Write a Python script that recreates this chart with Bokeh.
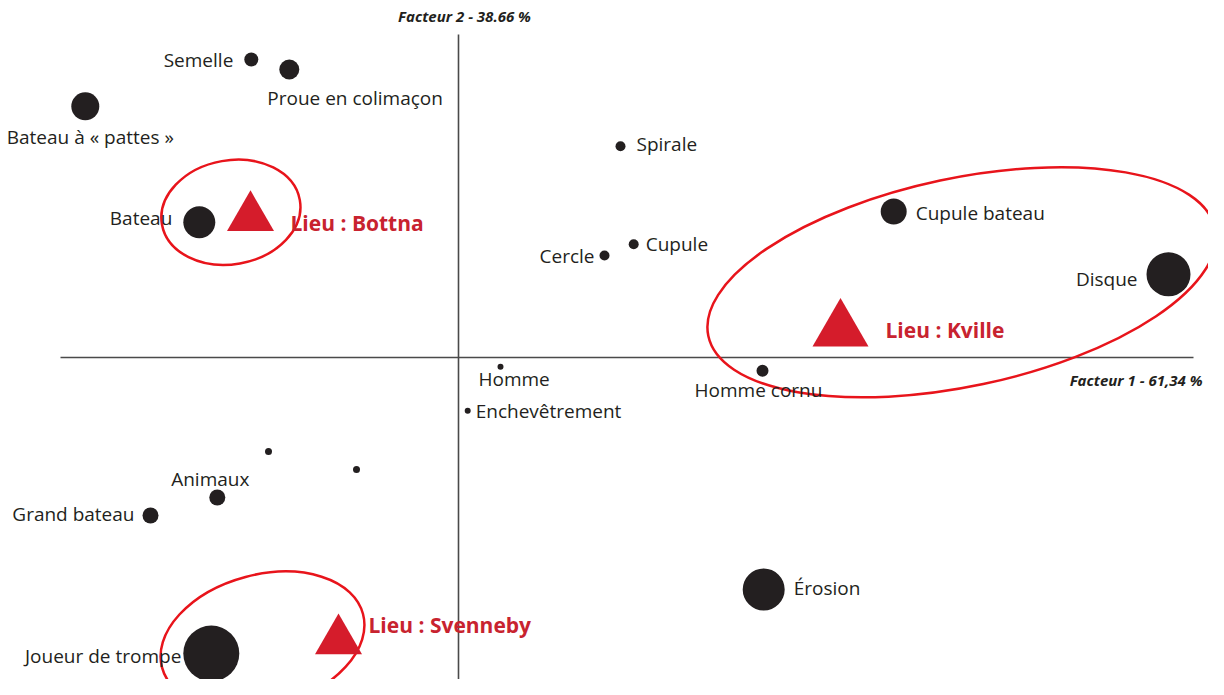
from bokeh.plotting import figure
from bokeh.models import ColumnDataSource
from bokeh.core.properties import value
from bokeh.embed import file_html
from bokeh.resources import INLINE

# ---- data: modalities (Factor 1, Factor 2 coordinates) ----
modalites = ["Semelle", "Proue en colimaçon", "Bateau à « pattes »", "Spirale", "Bateau",
             "Cupule bateau", "Cercle", "Cupule", "Disque", "Homme", "Homme cornu",
             "Enchevêtrement", "", "", "Animaux", "Grand bateau", "Érosion",
             "Joueur de trompe"]
f1 = [-0.518, -0.423, -0.933, 0.405, -0.648, 1.088, 0.365, 0.438, 1.775, 0.105, 0.760,
      0.023, -0.475, -0.255, -0.603, -0.770, 0.763, -0.618]
f2 = [0.745, 0.720, 0.628, 0.528, 0.338, 0.365, 0.255, 0.283, 0.208, -0.023, -0.033,
      -0.133, -0.235, -0.280, -0.350, -0.395, -0.580, -0.740]
poids = [14, 20, 28, 10, 32, 26, 10, 10, 44, 6, 12, 6, 7, 7, 16, 16, 42, 56]

# ---- data: sites ----
lieux = ["Lieu : Bottna", "Lieu : Kville", "Lieu : Svenneby"]
lieu_f1 = [-0.520, 0.955, -0.300]
lieu_f2 = [0.350, 0.068, -0.708]
lieu_poids = [47, 56, 47]

# groups (ellipses) around each site
grp_x = [-0.569, 1.258, -0.490]
grp_y = [0.363, 0.188, -0.708]
grp_w = [0.35, 1.295, 0.52]
grp_h = [0.26, 0.52, 0.33]
grp_angle = [0.175, 0.209, 0.26]

titre_f1 = "Facteur 1 - 61,34 %"
titre_f2 = "Facteur 2 - 38.66 %"

# ---- label layout (screen px offsets) ----
lab_dx = [-18, -22, 5, 16, -27, 22, -10, 12, -31, -22, -4, 8, 0, 0, -7, -16, 30, -30]
lab_dy = [0, 28, 31, -2, -4, 1, 0, 0, 5, 12, 19, 0, 0, 0, -19, -2, -2, 2]
lab_align = ["right", "left", "center", "left", "right", "left", "right", "left", "right",
             "left", "center", "left", "left", "left", "center", "right", "left", "right"]

lieu_dx = [40, 45, 30]
lieu_dy = [5, 0, -16]

p = figure(width=1208, height=679, output_backend="svg", toolbar_location=None,
           x_range=(-1.145, 1.875), y_range=(-0.805, 0.8925),
           min_border=0, min_border_left=0, min_border_right=0,
           min_border_top=0, min_border_bottom=0)
p.axis.visible = False
p.grid.visible = False
p.outline_line_color = None
p.background_fill_color = "white"

# axes lines
p.segment(x0=[-0.995, 0.0], y0=[0.0, -0.8075], x1=[1.8375, 0.0], y1=[0.0, 0.8075],
          line_color="#4a4a4a", line_width=1.6)

# ellipses
p.ellipse(x=grp_x, y=grp_y, width=grp_w, height=grp_h, angle=grp_angle,
          fill_alpha=0, line_color="#e8141b", line_width=2.5)

# dots
src = ColumnDataSource(dict(x=f1, y=f2, s=poids, t=modalites, dx=lab_dx, dy=lab_dy, al=lab_align))
p.scatter(x="x", y="y", size="s", source=src, fill_color="#231f20", line_color=None)
p.text(x="x", y="y", text="t", x_offset="dx", y_offset="dy", text_align="al",
       text_baseline="middle", source=src, text_font=value("Open Sans"),
       text_font_size="19px", text_color="#231f20")

# sites
src2 = ColumnDataSource(dict(x=lieu_f1, y=lieu_f2, s=lieu_poids, t=lieux, dx=lieu_dx, dy=lieu_dy))
p.scatter(x="x", y="y", marker="triangle", size="s", source=src2,
          fill_color="#d51c2b", line_color=None)
p.text(x="x", y="y", text="t", x_offset="dx", y_offset="dy", text_align="left",
       text_baseline="middle", source=src2, text_font=value("Open Sans"),
       text_font_style="bold", text_font_size="21px", text_color="#c8232f")

# axis titles
p.text(x=[0.015], y=[0.855], text=[titre_f2], text_align="center", text_baseline="middle",
       text_font=value("Open Sans"), text_font_style="bold italic",
       text_font_size="15px", text_color="#231f20")
p.text(x=[1.86], y=[-0.055], text=[titre_f1], text_align="right", text_baseline="middle",
       text_font=value("Open Sans"), text_font_style="bold italic",
       text_font_size="15px", text_color="#231f20")

open("out.html", "w").write(file_html(p, INLINE))
